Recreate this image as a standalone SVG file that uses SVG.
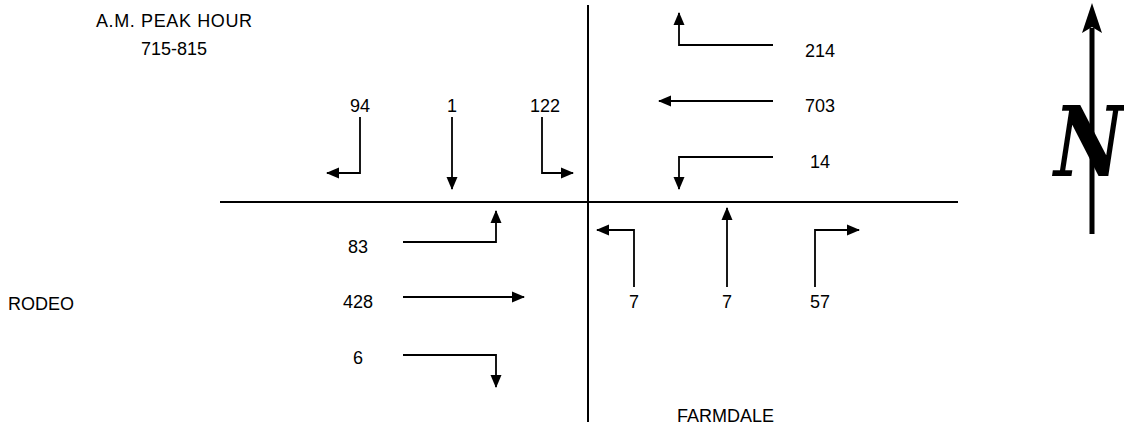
<svg xmlns="http://www.w3.org/2000/svg" width="1124" height="425" viewBox="0 0 1124 425">
  <style>
    text { font-family: "Liberation Sans", Arial, sans-serif; font-size: 18px; fill: #000; }
    .num { text-anchor: middle; }
    .road { stroke: #000; stroke-width: 2; fill: none; }
    .mv { stroke: #000; stroke-width: 1.8; fill: none; marker-end: url(#ah); }
  </style>
  <defs>
    <marker id="ah" markerUnits="userSpaceOnUse" markerWidth="13" markerHeight="12" viewBox="0 0 13 12" refX="12" refY="6" orient="auto">
      <path d="M0,0.5 L13,6 L0,11.5 Z" fill="#000"/>
    </marker>
  </defs>
  <rect width="1124" height="425" fill="#fff"/>

  <!-- title -->
  <g id="title">
    <text x="174" y="27" class="num" textLength="156">A.M. PEAK HOUR</text>
    <text x="174" y="55" class="num">715-815</text>
  </g>

  <!-- street centre lines -->
  <g id="streets">
    <line class="road" x1="220" y1="202" x2="958" y2="202"/>
    <line class="road" x1="588" y1="5" x2="588" y2="422"/>
  </g>

  <g id="street-names">
    <text x="8" y="310">RODEO</text>
    <text x="677" y="422">FARMDALE</text>
  </g>

  <!-- turning movement arrows -->
  <g id="connectors">
    <!-- southbound -->
    <path class="mv" d="M360,117 V173 H327"/>
    <path class="mv" d="M452,117 V189"/>
    <path class="mv" d="M542,117 V173 H573"/>
    <!-- westbound -->
    <path class="mv" d="M773,45 H679 V13"/>
    <path class="mv" d="M773,101 H659"/>
    <path class="mv" d="M773,157 H679 V189"/>
    <!-- eastbound -->
    <path class="mv" d="M403,242 H496 V211"/>
    <path class="mv" d="M403,297 H524"/>
    <path class="mv" d="M403,355 H496 V387"/>
    <!-- northbound -->
    <path class="mv" d="M634,287 V230 H597"/>
    <path class="mv" d="M727,287 V208"/>
    <path class="mv" d="M815,287 V230 H859"/>
  </g>

  <g id="sb-volumes">
    <text x="360" y="112" class="num">94</text>
    <text x="452" y="112" class="num">1</text>
    <text x="545" y="112" class="num">122</text>
  </g>
  <g id="wb-volumes">
    <text x="820" y="57" class="num">214</text>
    <text x="820" y="112" class="num">703</text>
    <text x="820" y="168" class="num">14</text>
  </g>
  <g id="eb-volumes">
    <text x="358" y="253" class="num">83</text>
    <text x="358" y="308" class="num">428</text>
    <text x="358" y="364" class="num">6</text>
  </g>
  <g id="nb-volumes">
    <text x="634" y="308" class="num">7</text>
    <text x="727" y="308" class="num">7</text>
    <text x="820" y="308" class="num">57</text>
  </g>

  <!-- north arrow -->
  <g id="north-arrow">
    <line x1="1092" y1="28" x2="1092" y2="234" stroke="#000" stroke-width="5"/>
    <path d="M1092,3 L1102,33 L1092,27 L1082,33 Z" fill="#000"/>
    <text transform="translate(1089,176) scale(0.78,1)" text-anchor="middle" style="font-family: 'DejaVu Serif', 'Liberation Serif', serif; font-style: italic; font-weight: bold; font-size: 98px;">N</text>
  </g>
</svg>
